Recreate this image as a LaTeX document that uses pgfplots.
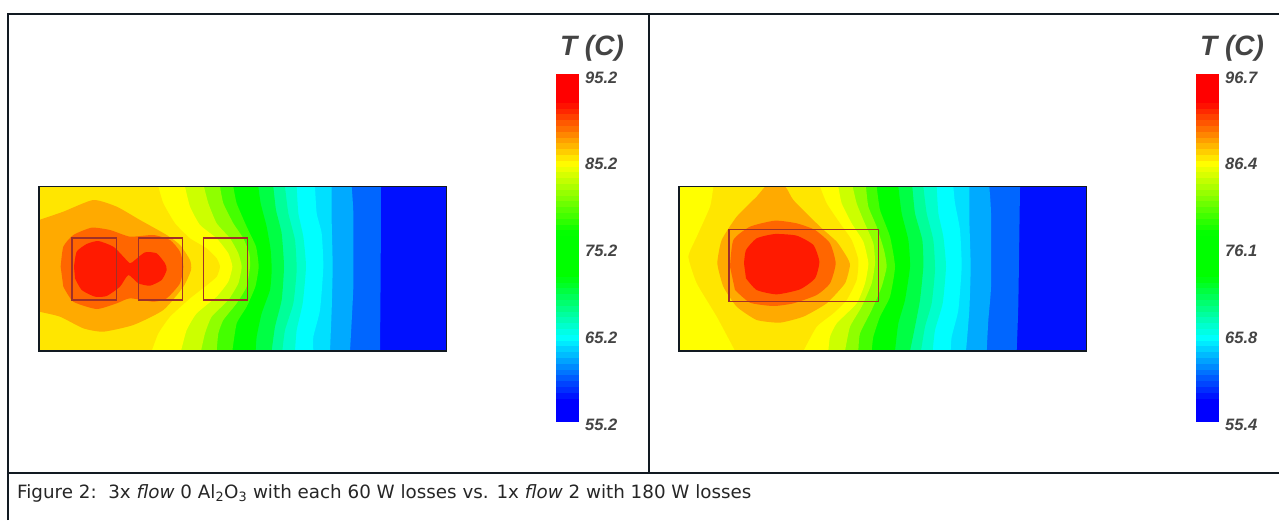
\documentclass[border=0pt]{standalone}
\usepackage{pgfplots}
\usepackage{pgfplotstable}
\usepackage{fontspec}
\pgfplotsset{compat=1.18}
\setmainfont{DejaVu Sans}
\newfontfamily\lib{Liberation Sans}
\definecolor{frame}{HTML}{121A22}
\definecolor{boxc}{HTML}{A03028}
\definecolor{labc}{HTML}{444444}
\definecolor{cA}{HTML}{FFE600}\definecolor{cB}{HTML}{FFFF00}\definecolor{cC}{HTML}{CCFF00}
\definecolor{cD}{HTML}{8FFF00}\definecolor{cE}{HTML}{44FF00}\definecolor{cF}{HTML}{00FF00}
\definecolor{cG}{HTML}{00FF44}\definecolor{cH}{HTML}{00FF99}\definecolor{cI}{HTML}{00FFCC}
\definecolor{cJ}{HTML}{00FFFF}\definecolor{cK}{HTML}{00E0FF}\definecolor{cL}{HTML}{00AAFF}
\definecolor{cM}{HTML}{0066FF}\definecolor{cN}{HTML}{0010FF}
\definecolor{cO}{HTML}{FFAA00}\definecolor{cP}{HTML}{FF6600}\definecolor{cQ}{HTML}{FF1A00}
\pgfdeclareplotmark{band}{\pgfpathrectangle{\pgfpoint{-11.5pt}{-3.1pt}}{\pgfpoint{23pt}{6.2pt}}\pgfusepathqfill}
\pgfplotstableread{
y T1 T2
76.9 94.9 96.4
82.7 94.2 95.7
88.5 93.5 95.0
94.3 92.9 94.3
100.1 92.2 93.6
105.9 91.5 92.9
111.7 90.9 92.2
117.5 90.2 91.5
123.3 89.5 90.9
129.1 88.9 90.2
134.9 88.2 89.5
140.7 87.5 88.8
146.5 86.9 88.1
152.3 86.2 87.4
158.1 85.5 86.7
163.9 84.9 86.0
169.7 84.2 85.3
175.5 83.5 84.7
181.3 82.9 84.0
187.1 82.2 83.3
192.9 81.5 82.6
198.7 80.9 81.9
204.5 80.2 81.2
210.3 79.5 80.5
216.1 78.9 79.8
221.9 78.2 79.1
227.7 77.5 78.5
233.5 76.9 77.8
239.3 76.2 77.1
245.1 75.5 76.4
250.9 74.9 75.7
256.7 74.2 75.0
262.5 73.5 74.3
268.3 72.9 73.6
274.1 72.2 72.9
279.9 71.5 72.3
285.7 70.9 71.6
291.5 70.2 70.9
297.3 69.5 70.2
303.1 68.9 69.5
308.9 68.2 68.8
314.7 67.5 68.1
320.5 66.9 67.4
326.3 66.2 66.7
332.1 65.5 66.1
337.9 64.9 65.4
343.7 64.2 64.7
349.5 63.5 64.0
355.3 62.9 63.3
361.1 62.2 62.6
366.9 61.5 61.9
372.7 60.9 61.2
378.5 60.2 60.5
384.3 59.5 59.9
390.1 58.9 59.2
395.9 58.2 58.5
401.7 57.5 57.8
407.5 56.9 57.1
413.3 56.2 56.4
419.1 55.5 55.7
}\bars
\pgfplotsset{
 pix/.style={scale only axis,hide axis,clip=false,y dir=reverse,anchor=south west,at={(0pt,0pt)},
   width=1279pt,height=520pt,xmin=0,xmax=1279,ymin=0,ymax=520,
   colormap={tec}{rgb255(0)=(0,0,255) rgb255(6)=(0,0,255) rgb255(24)=(0,255,255) rgb255(42)=(0,255,0) rgb255(54)=(0,255,0) rgb255(74)=(255,255,0) rgb255(92)=(255,0,0) rgb255(100)=(255,0,0)}},
 pan/.style={scale only axis,hide axis,clip=false,y dir=reverse,anchor=south west,
   width=440pt,height=200pt,xmin=0,xmax=1320,ymin=0,ymax=600},
}
\newcommand{\bnd}[2]{\addplot[fill=#1,draw=none,smooth,tension=.3] coordinates {#2} -- (axis cs:57,543) -- (axis cs:57,50) -- cycle;}
\newcommand{\blob}[2]{\addplot[fill=#1,draw=none,smooth,tension=.35] coordinates {#2} -- cycle;}
\newcommand{\rct}[4]{\addplot[draw=#1,line width=#2,line join=miter] coordinates {#3} -- cycle;}
\begin{document}
\begin{tikzpicture}
\path[use as bounding box,fill=white] (0pt,0pt) rectangle (1279pt,520pt);
% ---------- left panel
\begin{axis}[pan,at={(20pt,150pt)}]
\addplot[fill=cN,draw=none] coordinates {(57,50)(1280,50)(1280,543)(57,543)} -- cycle;
\bnd{cM}{(1083,50)(1082,300)(1080,543)}
\bnd{cL}{(995,50)(1000,130)(1000,350)(990,543)}
\bnd{cK}{(935,50)(935,150)(938,290)(935,420)(930,543)}
\bnd{cJ}{(885,50)(890,130)(905,190)(910,290)(900,420)(880,500)(880,543)}
\bnd{cI}{(830,50)(835,130)(850,200)(858,290)(848,400)(830,480)(825,543)}
\bnd{cH}{(795,50)(805,130)(825,210)(830,300)(820,400)(795,480)(787,543)}
\bnd{cG}{(760,50)(768,120)(785,190)(792,290)(785,390)(765,470)(755,543)}
\bnd{cF}{(715,50)(722,100)(740,170)(752,240)(755,300)(750,360)(725,430)(710,500)(707,543)}
\bnd{cE}{(640,50)(650,100)(680,170)(708,230)(716,290)(706,350)(680,410)(650,460)(637,543)}
\bnd{cD}{(600,50)(610,100)(640,160)(670,205)(688,250)(690,290)(680,350)(650,400)(610,450)(595,490)(590,543)}
\bnd{cC}{(552,50)(565,100)(590,160)(630,205)(655,250)(665,290)(655,340)(625,390)(575,440)(555,490)(543,543)}
\bnd{cB}{(495,50)(510,110)(540,165)(590,205)(625,250)(637,290)(625,335)(590,380)(530,430)(500,480)(483,543)}
\bnd{cA}{(415,50)(430,100)(465,160)(510,205)(560,235)(590,265)(600,290)(590,320)(555,350)(510,385)(450,440)(415,490)(395,543)}
\addplot[fill=cO,draw=none,smooth,tension=.35] coordinates {(57,150)(130,125)(220,90)(290,110)(360,150)(440,195)(480,225)(510,270)(513,300)(490,350)(430,420)(340,465)(250,485)(190,475)(120,440)(57,425)} -- cycle;
\blob{cP}{(122,290)(130,230)(160,195)(215,173)(270,180)(330,200)(400,195)(450,210)(480,245)(490,290)(480,340)(440,385)(400,395)(330,385)(290,400)(230,417)(160,395)(130,350)}
\blob{cQ}{(162,290)(170,245)(200,222)(235,213)(280,230)(310,260)(330,280)(345,270)(375,247)(410,250)(435,280)(440,300)(425,330)(390,347)(355,340)(325,315)(300,350)(260,378)(225,380)(185,360)(165,325)}
\rct{boxc}{1.6pt}{(156,204)(289,204)(289,390)(156,390)}{}
\rct{boxc}{1.6pt}{(355,204)(488,204)(488,390)(355,390)}{}
\rct{boxc}{1.6pt}{(550,204)(683,204)(683,390)(550,390)}{}
\rct{frame}{1.3pt}{(57,50)(1280,50)(1280,543)(57,543)}{}
\end{axis}
% ---------- right panel
\begin{axis}[pan,at={(660pt,150pt)}]
\addplot[fill=cN,draw=none] coordinates {(57,50)(1280,50)(1280,543)(57,543)} -- cycle;
\bnd{cM}{(1080,50)(1075,400)(1070,543)}
\bnd{cL}{(988,50)(993,130)(993,350)(985,450)(980,543)}
\bnd{cK}{(928,50)(928,150)(932,290)(928,420)(918,543)}
\bnd{cJ}{(880,50)(885,100)(900,180)(905,290)(895,420)(875,500)(872,543)}
\bnd{cI}{(830,50)(835,130)(850,200)(858,290)(848,400)(825,480)(818,543)}
\bnd{cH}{(790,50)(800,130)(820,210)(825,300)(815,400)(795,470)(783,543)}
\bnd{cG}{(757,50)(765,130)(787,210)(790,290)(780,390)(765,470)(750,543)}
\bnd{cF}{(715,50)(725,130)(745,210)(750,290)(735,390)(715,460)(705,543)}
\bnd{cE}{(650,50)(660,120)(690,200)(705,290)(690,380)(660,440)(640,500)(635,543)}
\bnd{cD}{(618,50)(625,110)(650,170)(672,240)(680,290)(665,350)(635,420)(600,490)(595,543)}
\bnd{cC}{(578,50)(590,100)(610,150)(640,220)(645,280)(635,340)(605,410)(570,470)(555,543)}
\bnd{cB}{(535,50)(545,100)(575,160)(610,215)(625,280)(615,340)(590,400)(530,460)(510,500)(505,543)}
\bnd{cA}{(480,50)(500,100)(540,160)(575,210)(595,270)(590,330)(560,390)(520,430)(470,470)(430,543)}
\addplot[fill=cB,draw=none,smooth,tension=.3] coordinates {(160,50)(150,110)(110,200)(85,260)(110,340)(170,440)(225,543)} -- (axis cs:57,543) -- (axis cs:57,50) -- cycle;
\addplot[fill=cO,draw=none,smooth,tension=.3] coordinates {(315,50)(375,50)(400,90)(480,170)(530,215)(560,260)(570,285)(555,340)(500,400)(430,440)(360,458)(290,450)(230,410)(190,350)(172,280)(185,210)(230,140)(290,80)} -- cycle;
\blob{cP}{(210,290)(220,210)(270,170)(345,152)(410,160)(465,180)(510,220)(527,280)(510,340)(470,375)(400,400)(340,408)(270,398)(225,360)}
\blob{cQ}{(252,280)(258,240)(290,205)(345,192)(410,197)(460,225)(478,275)(465,325)(420,358)(350,373)(290,360)(258,325)}
\rct{boxc}{1.6pt}{(207,178)(655,178)(655,394)(207,394)}{}
\rct{frame}{1.3pt}{(57,50)(1280,50)(1280,543)(57,543)}{}
\end{axis}
% ---------- left colour bar, frame and caption
\begin{axis}[pix,point meta min=55.2,point meta max=95.2]
\addplot[scatter,only marks,mark=band,scatter src=explicit] table[x expr=567.7,y=y,meta=T1] {\bars};
\addplot[frame,line width=2pt] coordinates {(8,520)(8,14)(1279,14)};
\addplot[frame,line width=2pt] coordinates {(8,473)(1279,473)};
\addplot[frame,line width=2pt] coordinates {(649,14)(649,473)};
\node[anchor=west,font=\lib\bfseries\itshape\fontsize{16.5}{16.5}\selectfont,text=labc,inner sep=0pt] at (axis cs:585,78) {95.2};
\node[anchor=west,font=\lib\bfseries\itshape\fontsize{16.5}{16.5}\selectfont,text=labc,inner sep=0pt] at (axis cs:585,164) {85.2};
\node[anchor=west,font=\lib\bfseries\itshape\fontsize{16.5}{16.5}\selectfont,text=labc,inner sep=0pt] at (axis cs:585,251) {75.2};
\node[anchor=west,font=\lib\bfseries\itshape\fontsize{16.5}{16.5}\selectfont,text=labc,inner sep=0pt] at (axis cs:585,338) {65.2};
\node[anchor=west,font=\lib\bfseries\itshape\fontsize{16.5}{16.5}\selectfont,text=labc,inner sep=0pt] at (axis cs:585,425) {55.2};
\node[anchor=center,font=\lib\bfseries\itshape\fontsize{28}{28}\selectfont,text=labc,inner sep=0pt] at (axis cs:592,48) {T (C)};
\node[anchor=base west,font=\fontsize{18.3}{18.3}\selectfont,text=black!85,inner sep=0pt] at (axis cs:17,498) {Figure 2:\ \ 3x \textit{flow} 0 Al$_{\mathrm{2}}$O$_{\mathrm{3}}$ with each 60 W losses vs. 1x \textit{flow} 2 with 180 W losses};
\end{axis}
% ---------- right colour bar
\begin{axis}[pix,point meta min=55.4,point meta max=96.7]
\addplot[scatter,only marks,mark=band,scatter src=explicit] table[x expr=1207.7,y=y,meta=T2] {\bars};
\node[anchor=west,font=\lib\bfseries\itshape\fontsize{16.5}{16.5}\selectfont,text=labc,inner sep=0pt] at (axis cs:1225,78) {96.7};
\node[anchor=west,font=\lib\bfseries\itshape\fontsize{16.5}{16.5}\selectfont,text=labc,inner sep=0pt] at (axis cs:1225,164) {86.4};
\node[anchor=west,font=\lib\bfseries\itshape\fontsize{16.5}{16.5}\selectfont,text=labc,inner sep=0pt] at (axis cs:1225,251) {76.1};
\node[anchor=west,font=\lib\bfseries\itshape\fontsize{16.5}{16.5}\selectfont,text=labc,inner sep=0pt] at (axis cs:1225,338) {65.8};
\node[anchor=west,font=\lib\bfseries\itshape\fontsize{16.5}{16.5}\selectfont,text=labc,inner sep=0pt] at (axis cs:1225,425) {55.4};
\node[anchor=center,font=\lib\bfseries\itshape\fontsize{28}{28}\selectfont,text=labc,inner sep=0pt] at (axis cs:1232,48) {T (C)};
\end{axis}
\end{tikzpicture}
\end{document}
